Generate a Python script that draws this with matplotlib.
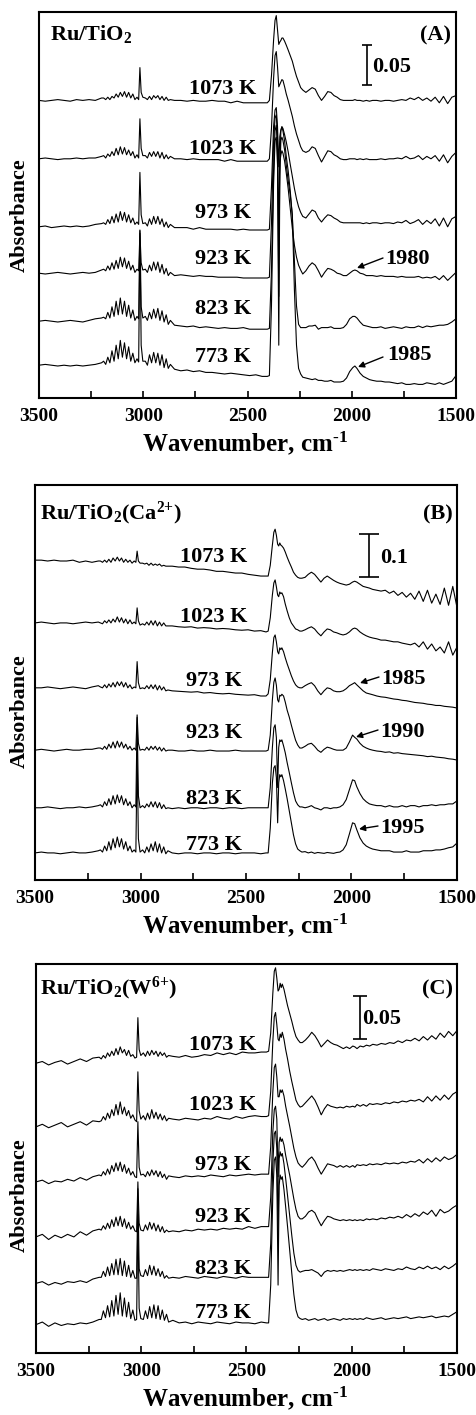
import matplotlib
matplotlib.use('Agg')
import matplotlib.pyplot as plt
from matplotlib.ticker import MultipleLocator

plt.rcParams['font.family'] = 'Liberation Serif'
plt.rcParams['font.weight'] = 'bold'
plt.rcParams['mathtext.fontset'] = 'custom'
plt.rcParams['mathtext.rm'] = 'Liberation Serif:bold'
plt.rcParams['mathtext.it'] = 'Liberation Serif:bold:italic'
plt.rcParams['mathtext.bf'] = 'Liberation Serif:bold'

temps = ['1073 K', '1023 K', '973 K', '923 K', '823 K', '773 K']

wavenumber = [
    3500, 3470, 3440, 3410, 3380, 3350, 3320, 3290, 3260, 3230, 3200,
    3190, 3180, 3170, 3160, 3150, 3140, 3130, 3120, 3110, 3100, 3090, 3080, 3070, 3060, 3050, 3040, 3030,
    3022, 3016, 3010, 3002,
    2990, 2980, 2970, 2960, 2950, 2940, 2930, 2920, 2910, 2900, 2890, 2880, 2870,
    2850, 2820, 2790, 2760, 2730, 2700, 2670, 2640, 2610, 2580, 2550, 2520, 2490, 2460, 2430, 2405,
    2395, 2385, 2375, 2368, 2362, 2356, 2350, 2345, 2340, 2335, 2330, 2322, 2314, 2305, 2295, 2285, 2275, 2265, 2255, 2245,
    2235, 2220, 2205, 2190, 2175, 2160, 2145, 2130, 2115, 2100, 2085, 2070, 2055, 2040, 2025, 2010, 1995, 1985, 1975, 1960, 1945, 1930, 1915, 1900,
    1880, 1860, 1840, 1820, 1800, 1780, 1760, 1740, 1720, 1700, 1680, 1660, 1640, 1620, 1600, 1580, 1560, 1540, 1520, 1500,
]

# absorbance in mA, relative to the start of each trace
A_1073 = [0, -1, 0, 1, 0, -1, 1, 0, 1, 0, 3,
          3, 1, 4, 1, 5, 3, 8, 4, 10, 5, 11, 4, 10, 3, 8, 1, 4,
          1, 41, 10, 4,
          3, 1, 5, 1, 6, 3, 6, 1, 5, 0, 4, 0, 1,
          0, 0, -1, 0, -1, -1, 0, -1, -1, -3, -1, -3, -3, -3, -3, -3,
          0, 31, 75, 100, 106, 88, 70, 73, 75, 78, 78, 74, 69, 63, 56, 49, 39, 30, 23, 16,
          13, 10, 13, 16, 14, 6, 0, 5, 11, 10, 6, 4, 1, 0, 0, 0, 0, 1, 0, 0, -1, 0, -1, 0,
          0, -1, 0, 0, -1, 0, 1, 0, 3, 1, 4, 0, 3, -1, 4, -3, 5, -4, 4, 6]
A_1023 = [0, 1, 0, -1, 0, 0, 1, 0, 1, 1, 3,
          4, 1, 6, 3, 9, 4, 13, 5, 15, 6, 14, 5, 11, 4, 9, 1, 5,
          1, 50, 13, 4,
          4, 1, 8, 3, 9, 3, 9, 1, 8, 0, 5, 0, 3,
          0, 0, -1, 0, -1, -1, -1, -1, -3, -1, -3, -3, -3, -3, -3, -3,
          0, 38, 100, 129, 134, 115, 90, 93, 96, 99, 98, 90, 81, 73, 63, 53, 41, 31, 23, 15,
          10, 8, 10, 15, 13, 4, -4, 3, 10, 9, 5, 3, 0, -1, -1, 0, 0, 0, -1, 0, -1, 0, -1, -1,
          -1, 0, -1, 0, 0, 1, 0, 3, 0, 1, 4, -1, 3, 0, 4, -3, 5, -5, 3, 8]
A_973 = [0, 1, -1, 0, 1, 0, 1, 0, 1, 3, 4,
         5, 3, 9, 4, 13, 5, 16, 6, 19, 8, 18, 6, 15, 5, 11, 3, 6,
         3, 68, 15, 4,
         5, 1, 10, 3, 13, 4, 13, 3, 10, 0, 6, -1, 3,
         -1, -1, -1, -3, -1, -3, -3, -3, -3, -3, -4, -3, -4, -4, -4, -4,
         -3, 50, 125, 146, 149, 125, 75, 113, 121, 125, 123, 115, 106, 94, 78, 63, 48, 35, 25, 18,
         13, 11, 16, 21, 19, 11, 6, 11, 15, 14, 11, 9, 6, 5, 5, 5, 5, 5, 5, 5, 4, 5, 4, 5,
         5, 4, 5, 5, 4, 6, 5, 8, 4, 6, 9, 3, 8, 4, 10, 1, 11, 0, 10, 13]
A_923 = [0, -1, 0, 1, 0, -1, 0, 1, 0, 1, 4,
         5, 3, 9, 4, 13, 5, 16, 6, 20, 8, 19, 6, 15, 4, 10, 1, 5,
         3, 50, 13, 4,
         5, 1, 10, 3, 14, 4, 14, 1, 11, -1, 6, -3, 1,
         -3, -2, -3, -4, -3, -4, -4, -5, -5, -5, -5, -6, -6, -6, -6, -6,
         -5, 63, 163, 194, 198, 169, 50, 138, 148, 153, 150, 140, 125, 106, 81, 56, 35, 20, 10, 4,
         -1, 3, 9, 13, 10, 3, -5, 1, 6, 5, 3, 0, -1, -3, -3, 0, 3, 4, 3, 0, -1, -3, -3, -3,
         -4, -3, -4, -4, -4, -5, -4, -5, -5, -5, -4, -6, -5, -6, -4, -8, -3, -9, -4, 1]
A_823 = [0, 1, 0, -1, 0, 1, 0, -1, 1, 3, 4,
         5, 3, 11, 4, 18, 6, 25, 8, 29, 9, 25, 6, 20, 4, 14, 1, 6,
         3, 113, 18, 4,
         6, 1, 11, 3, 15, 4, 16, 1, 13, -1, 8, -4, 1,
         -5, -6, -7, -6, -8, -7, -8, -9, -8, -9, -9, -8, -10, -10, -10, -10,
         -9, 63, 188, 238, 245, 213, 31, 200, 238, 243, 238, 225, 206, 188, 163, 131, 75, 19, -4, -8,
         -8, -8, -6, -6, -5, -10, -8, -8, -8, -7, -9, -9, -9, -8, -4, 3, 6, 6, 4, -1, -5, -6, -7, -8,
         -8, -7, -9, -8, -7, -8, -9, -7, -8, -8, -6, -8, -6, -7, -6, -5, -5, -4, -1, 3]
A_773 = [0, 1, 0, -1, 0, -1, 0, -1, 0, 1, 3,
         5, 1, 10, 3, 18, 5, 25, 8, 31, 10, 28, 8, 23, 5, 15, 3, 8,
         4, 169, 25, 5,
         5, 0, 13, 3, 16, 3, 15, 0, 13, -3, 8, -4, 1,
         -5, -7, -6, -8, -7, -9, -9, -10, -11, -10, -11, -12, -13, -12, -14, -14,
         -13, 75, 225, 281, 285, 250, 25, 238, 281, 285, 281, 269, 250, 231, 213, 188, 94, 25, -4, -11,
         -15, -16, -17, -18, -17, -19, -19, -20, -20, -19, -21, -21, -21, -20, -16, -8, -3, -1, -4, -10, -14, -16, -18, -19,
         -20, -20, -21, -21, -22, -23, -22, -24, -24, -23, -24, -24, -22, -23, -24, -22, -24, -22, -20, -13]

B_1073 = [0, 0, -2, 0, -2, -2, 0, -5, -2, -5, -2,
          -2, -5, 0, -5, 2, -5, 5, -2, 7, -2, 5, -5, 2, -5, 0, -7, -2,
          -5, 21, -2, -7,
          -7, -9, -7, -12, -7, -12, -9, -12, -9, -14, -12, -14, -14,
          -14, -16, -16, -19, -21, -21, -23, -26, -26, -28, -30, -30, -33, -35, -37, -37,
          -37, -12, 35, 65, 72, 58, 37, 33, 40, 35, 33, 28, 19, 7, -5, -16, -28, -35, -40, -42,
          -42, -40, -33, -28, -33, -42, -51, -42, -37, -42, -47, -51, -54, -56, -58, -56, -51, -49, -51, -56, -61, -63, -65, -68,
          -70, -72, -70, -77, -72, -82, -75, -86, -77, -91, -72, -96, -70, -100, -79, -103, -65, -105, -61, -110]
B_1023 = [0, 2, 0, -2, 0, 0, -2, 0, 2, 0, 2,
          0, -2, 5, 0, 7, 0, 9, 2, 14, 2, 12, 0, 9, -2, 7, -2, 2,
          -2, 35, 5, -5,
          -2, -5, 2, -5, 5, -5, 5, -7, 2, -7, 0, -7, -7,
          -7, -9, -10, -9, -12, -11, -12, -14, -13, -14, -16, -17, -16, -19, -18, -21,
          -19, 12, 65, 93, 100, 84, 65, 61, 72, 68, 70, 61, 44, 28, 12, 0, -7, -14, -16, -19,
          -19, -16, -12, -9, -14, -23, -30, -21, -14, -16, -21, -23, -26, -28, -26, -21, -14, -12, -14, -21, -26, -30, -33, -35,
          -37, -40, -40, -42, -44, -44, -47, -49, -51, -47, -56, -44, -61, -49, -65, -56, -70, -44, -75, -56]
B_973 = [0, 0, 2, 0, -2, 0, 2, 0, -2, 2, 5,
         2, 0, 7, 0, 9, 2, 12, 2, 14, 5, 14, 2, 12, 0, 7, -2, 2,
         0, 61, 12, -2,
         0, -2, 5, -2, 7, -2, 7, -5, 5, -5, 2, -7, -5,
         -7, -8, -9, -10, -9, -12, -11, -13, -14, -13, -15, -16, -17, -16, -19, -19,
         -14, 19, 82, 117, 123, 107, 84, 79, 93, 89, 93, 84, 70, 56, 42, 28, 16, 7, 2, 0,
         0, 5, 9, 12, 5, -7, -16, -7, 0, -2, -7, -9, -9, -7, -2, 5, 9, 12, 7, 0, -7, -12, -14, -16,
         -19, -21, -22, -24, -26, -27, -29, -30, -32, -34, -35, -36, -38, -39, -41, -41, -43, -44, -45, -47]
B_923 = [0, 2, 0, -2, 0, 2, 0, 0, 2, 2, 5,
         5, 2, 9, 2, 14, 5, 19, 5, 21, 7, 19, 5, 14, 2, 9, 0, 5,
         0, 82, 16, 0,
         2, 0, 7, 0, 9, 2, 9, 0, 7, -2, 5, -2, 0,
         0, -2, -2, 0, -2, -2, 0, -2, -2, -2, 0, -2, -2, -2, -2, -2,
         0, 35, 117, 158, 168, 151, 117, 112, 128, 126, 130, 126, 112, 93, 77, 58, 40, 23, 12, 5,
         5, 9, 14, 16, 9, 0, -5, 2, 7, 5, 2, 0, 0, 0, 5, 19, 35, 30, 26, 16, 9, 5, 2, 0,
         -2, -3, -5, -4, -7, -6, -8, -9, -10, -11, -12, -13, -15, -14, -16, -17, -18, -20, -21, -23]
B_823 = [0, 0, 2, 0, -2, 0, 0, 2, 0, 2, 5,
         7, 2, 14, 5, 21, 7, 28, 9, 30, 12, 28, 7, 21, 5, 14, 0, 7,
         2, 210, 28, 0,
         5, 0, 9, 2, 14, 2, 14, 0, 12, -2, 7, -2, 0,
         -2, 0, -2, 0, 0, -2, 0, 0, -2, 0, 0, -2, 0, 0, 0, 0,
         0, 47, 140, 186, 193, 163, 47, 140, 158, 154, 158, 144, 128, 105, 82, 58, 35, 16, 7, 2,
         2, 0, 2, 5, 0, -2, -5, 0, 0, -2, 0, 0, 2, 7, 19, 42, 65, 63, 49, 33, 21, 14, 9, 7,
         5, 5, 2, 5, 2, 2, 5, 2, 5, 5, 2, 5, 5, 7, 5, 7, 7, 9, 9, 16]
B_773 = [0, 2, 0, 0, -2, 0, 2, 0, 0, 2, 5,
         7, 2, 16, 5, 26, 7, 33, 12, 37, 14, 33, 9, 26, 5, 16, 2, 7,
         2, 233, 33, 2,
         7, 0, 14, 2, 21, 5, 26, 2, 21, 0, 14, -2, 5,
         0, -2, 0, 0, -2, 0, 0, -2, 0, 0, -2, 0, 0, 0, -2, 0,
         0, 58, 163, 198, 203, 175, 70, 163, 182, 177, 182, 168, 149, 126, 98, 70, 42, 21, 9, 5,
         2, 3, 0, 2, -1, 1, 0, -1, 1, 0, -1, 1, 2, 7, 19, 44, 70, 68, 54, 35, 23, 16, 12, 9,
         7, 5, 5, 5, 2, 2, 2, 5, 2, 2, 2, 5, 5, 5, 7, 7, 9, 12, 14, 23]

C_1073 = [0, 2, -2, 1, 3, -1, 2, 5, 2, 6, 7,
          5, 9, 6, 12, 8, 14, 9, 17, 10, 19, 12, 16, 9, 15, 8, 10, 6,
          7, 53, 16, 9,
          12, 8, 14, 9, 15, 10, 14, 8, 13, 9, 12, 7, 9,
          8, 7, 9, 7, 8, 10, 9, 12, 10, 12, 10, 13, 12, 12, 13, 13,
          14, 35, 81, 107, 111, 99, 84, 86, 93, 88, 92, 86, 77, 67, 58, 49, 39, 31, 27, 24,
          24, 27, 31, 36, 32, 26, 19, 23, 27, 24, 22, 21, 19, 17, 19, 17, 20, 19, 17, 20, 19, 21, 20, 22,
          21, 23, 22, 24, 23, 26, 24, 27, 26, 29, 26, 31, 27, 32, 28, 35, 30, 37, 32, 38]
C_1023 = [0, 3, -1, 2, 5, 0, 3, 6, 2, 7, 6,
          7, 12, 8, 16, 10, 20, 13, 26, 14, 29, 15, 23, 13, 19, 10, 14, 8,
          6, 64, 19, 9,
          13, 8, 16, 9, 20, 10, 17, 9, 15, 8, 13, 7, 10,
          9, 8, 10, 9, 8, 10, 9, 12, 10, 9, 12, 10, 12, 13, 12, 12,
          13, 41, 99, 128, 133, 119, 102, 100, 108, 104, 110, 102, 90, 79, 65, 53, 42, 31, 26, 23,
          24, 28, 32, 36, 31, 23, 14, 21, 26, 24, 23, 22, 23, 22, 24, 23, 24, 23, 26, 24, 26, 24, 27, 26,
          27, 26, 28, 27, 29, 28, 30, 29, 31, 30, 32, 29, 35, 30, 36, 31, 37, 32, 38, 41]
C_973 = [0, 2, -2, 1, 0, 3, 1, 5, 2, 6, 8,
         7, 12, 8, 15, 9, 19, 12, 22, 13, 23, 12, 20, 10, 16, 8, 12, 6,
         5, 70, 17, 8,
         9, 6, 12, 7, 14, 8, 13, 6, 12, 5, 9, 3, 7,
         6, 5, 7, 6, 7, 6, 8, 7, 6, 8, 7, 8, 9, 8, 9, 9,
         9, 41, 104, 133, 137, 122, 99, 99, 107, 104, 107, 100, 88, 77, 65, 52, 39, 29, 22, 19,
         17, 21, 26, 29, 24, 16, 9, 15, 21, 20, 19, 17, 19, 17, 19, 17, 19, 17, 20, 19, 20, 19, 21, 20,
         21, 20, 22, 21, 22, 21, 23, 22, 24, 23, 26, 22, 27, 23, 28, 24, 29, 26, 28, 32]
C_923 = [0, 3, -3, 2, -1, 3, 0, 6, 2, 7, 9,
         8, 13, 9, 16, 10, 20, 12, 23, 13, 24, 12, 21, 10, 17, 9, 13, 7,
         6, 64, 16, 8,
         7, 14, 8, 17, 9, 16, 7, 14, 6, 12, 5, 8, 6,
         7, 6, 8, 7, 9, 8, 9, 8, 10, 9, 10, 9, 12, 10, 12, 12,
         12, 46, 122, 148, 152, 137, 70, 110, 116, 111, 114, 107, 95, 84, 72, 58, 44, 32, 24, 21,
         21, 24, 29, 31, 28, 20, 13, 19, 24, 23, 21, 20, 19, 20, 19, 20, 19, 20, 19, 20, 19, 21, 20, 21,
         20, 22, 21, 23, 22, 24, 22, 26, 23, 27, 24, 29, 26, 31, 24, 32, 28, 30, 34, 37]
C_823 = [0, 2, -2, 1, -1, 2, 1, 3, 1, 5, 7,
         7, 14, 8, 19, 9, 23, 10, 28, 10, 29, 9, 26, 8, 21, 7, 15, 6,
         6, 110, 17, 9,
         8, 16, 9, 21, 10, 20, 9, 17, 8, 14, 6, 9, 6,
         7, 6, 8, 7, 6, 8, 7, 6, 8, 7, 6, 8, 7, 7, 7, 7,
         7, 46, 139, 174, 177, 157, 58, 145, 153, 148, 151, 139, 122, 102, 79, 56, 35, 21, 15, 13,
         14, 15, 15, 16, 14, 12, 8, 13, 15, 14, 15, 14, 15, 14, 15, 16, 15, 16, 15, 16, 15, 16, 15, 17,
         16, 15, 17, 16, 15, 17, 16, 19, 17, 16, 19, 17, 20, 17, 19, 16, 20, 17, 20, 24]
C_773 = [0, 3, -2, 2, -1, 1, 0, 2, 1, 3, 6,
         6, 16, 8, 22, 9, 28, 10, 34, 12, 37, 10, 31, 9, 26, 7, 17, 5,
         6, 128, 19, 7,
         6, 16, 7, 21, 8, 23, 7, 22, 6, 17, 5, 12, 3,
         5, 2, 3, 1, 3, 2, 1, 3, 2, 1, 3, 2, 2, 1, 3, 2,
         2, 46, 151, 191, 195, 174, 46, 162, 174, 169, 172, 157, 137, 114, 87, 60, 35, 17, 9, 7,
         6, 7, 5, 6, 7, 5, 6, 7, 5, 6, 7, 6, 5, 7, 6, 7, 6, 7, 6, 7, 6, 8, 7, 6,
         7, 8, 6, 7, 8, 7, 8, 9, 7, 8, 9, 8, 9, 10, 8, 9, 10, 9, 12, 15]

W, H = 477, 1415


def fx(px):
    return px / W


def fy(py):
    return 1 - py / H


def txt(px, py, s, **kw):
    fig.text(fx(px), fy(py), s, **kw)


fig = plt.figure(figsize=(W / 100, H / 100), dpi=100)

# box (px): left, top, right, bottom ; offsets of the traces ; y range ; scale bar
panels = [
    dict(box=(39, 12, 456, 398), traces=[A_1073, A_1023, A_973, A_923, A_823, A_773],
         offsets=[0.372, 0.299, 0.214, 0.156, 0.096, 0.041], ytop=0.4825,
         bar=(1927, 0.416, 0.025, 3.6), bar_text=(372, 72, '0.05'),
         title=(50, 40, 'Ru/TiO$_2$'), tag=(451, 40, '(A)'),
         lab_x=223, lab_y=[87, 147, 210, 257, 307, 355], ylab=215),
    dict(box=(35, 485, 457, 880), traces=[B_1073, B_1023, B_973, B_923, B_823, B_773],
         offsets=[0.744, 0.598, 0.447, 0.302, 0.168, 0.063], ytop=0.9188,
         bar=(1917, 0.7548, 0.05, 7.2), bar_text=(380, 563, '0.1'),
         title=(40, 519, 'Ru/TiO$_2$(Ca$^{2{+}}$)'), tag=(453, 519, '(B)'),
         lab_x=214, lab_y=[555, 615, 678, 730, 797, 843], ylab=711),
    dict(box=(36, 964, 457, 1353), traces=[C_1073, C_1023, C_973, C_923, C_823, C_773],
         offsets=[0.337, 0.263, 0.199, 0.135, 0.081, 0.033], ytop=0.4524,
         bar=(1961, 0.3902, 0.025, 4.7), bar_text=(362, 1024, '0.05'),
         title=(40, 994, 'Ru/TiO$_2$(W$^{6{+}}$)'), tag=(453, 994, '(C)'),
         lab_x=223, lab_y=[1042, 1103, 1162, 1215, 1267, 1310], ylab=1195),
]

for p in panels:
    l, t, r, b = p['box']
    ax = fig.add_axes([fx(l), fy(b), (r - l) / W, (b - t) / H])
    for trace, off in zip(p['traces'], p['offsets']):
        ax.plot(wavenumber, [off + v / 1000 for v in trace], color='black', lw=0.8)
    ax.set_xlim(3500, 1500)
    ax.set_ylim(0, p['ytop'])
    ax.xaxis.set_major_locator(MultipleLocator(500))
    ax.xaxis.set_minor_locator(MultipleLocator(250))
    ax.tick_params(axis='x', which='both', direction='in', length=5, width=1.2,
                   top=False, labelsize=14, pad=7)
    ax.tick_params(axis='y', left=False, labelleft=False)
    for s in ax.spines.values():
        s.set_linewidth(1.5)
    bx, by, berr, cap = p['bar']
    ax.errorbar([bx], [by], yerr=[berr], fmt='none', ecolor='black',
                elinewidth=1.2, capsize=cap, capthick=1.2)
    txt(p['bar_text'][0], p['bar_text'][1], p['bar_text'][2], fontsize=16, va='baseline')
    txt(*p['title'], fontsize=16, va='baseline')
    txt(*p['tag'], fontsize=16, va='baseline', ha='right')
    for name, ly in zip(temps, p['lab_y']):
        txt(p['lab_x'], ly + 7.5, name, fontsize=16, ha='center', va='baseline')
    txt(20, p['ylab'], 'Absorbance', fontsize=16, rotation=90, ha='center', va='center')
    txt(245, b + 53, 'Wavenumber, cm$^{\\text{-1}}$', fontsize=18, ha='center', va='baseline')

# peak position arrows
arrows = [((383, 258), (357, 268), (385, 264), '1980'),
          ((383, 357), (358, 367), (387, 360), '1985'),
          ((379, 677), (360, 683), (381, 684), '1985'),
          ((378, 730), (356, 737), (380, 737), '1990'),
          ((378, 826), (359, 829), (380, 833), '1995')]
for tail, tip, pos, label in arrows:
    fig.add_artist(matplotlib.patches.FancyArrowPatch(
        (fx(tail[0]), fy(tail[1])), (fx(tip[0]), fy(tip[1])),
        transform=fig.transFigure, arrowstyle='-|>', mutation_scale=9,
        color='black', lw=1, shrinkA=0, shrinkB=0))
    txt(pos[0], pos[1], label, fontsize=16, va='baseline')

fig.savefig('out.png', dpi=100)
